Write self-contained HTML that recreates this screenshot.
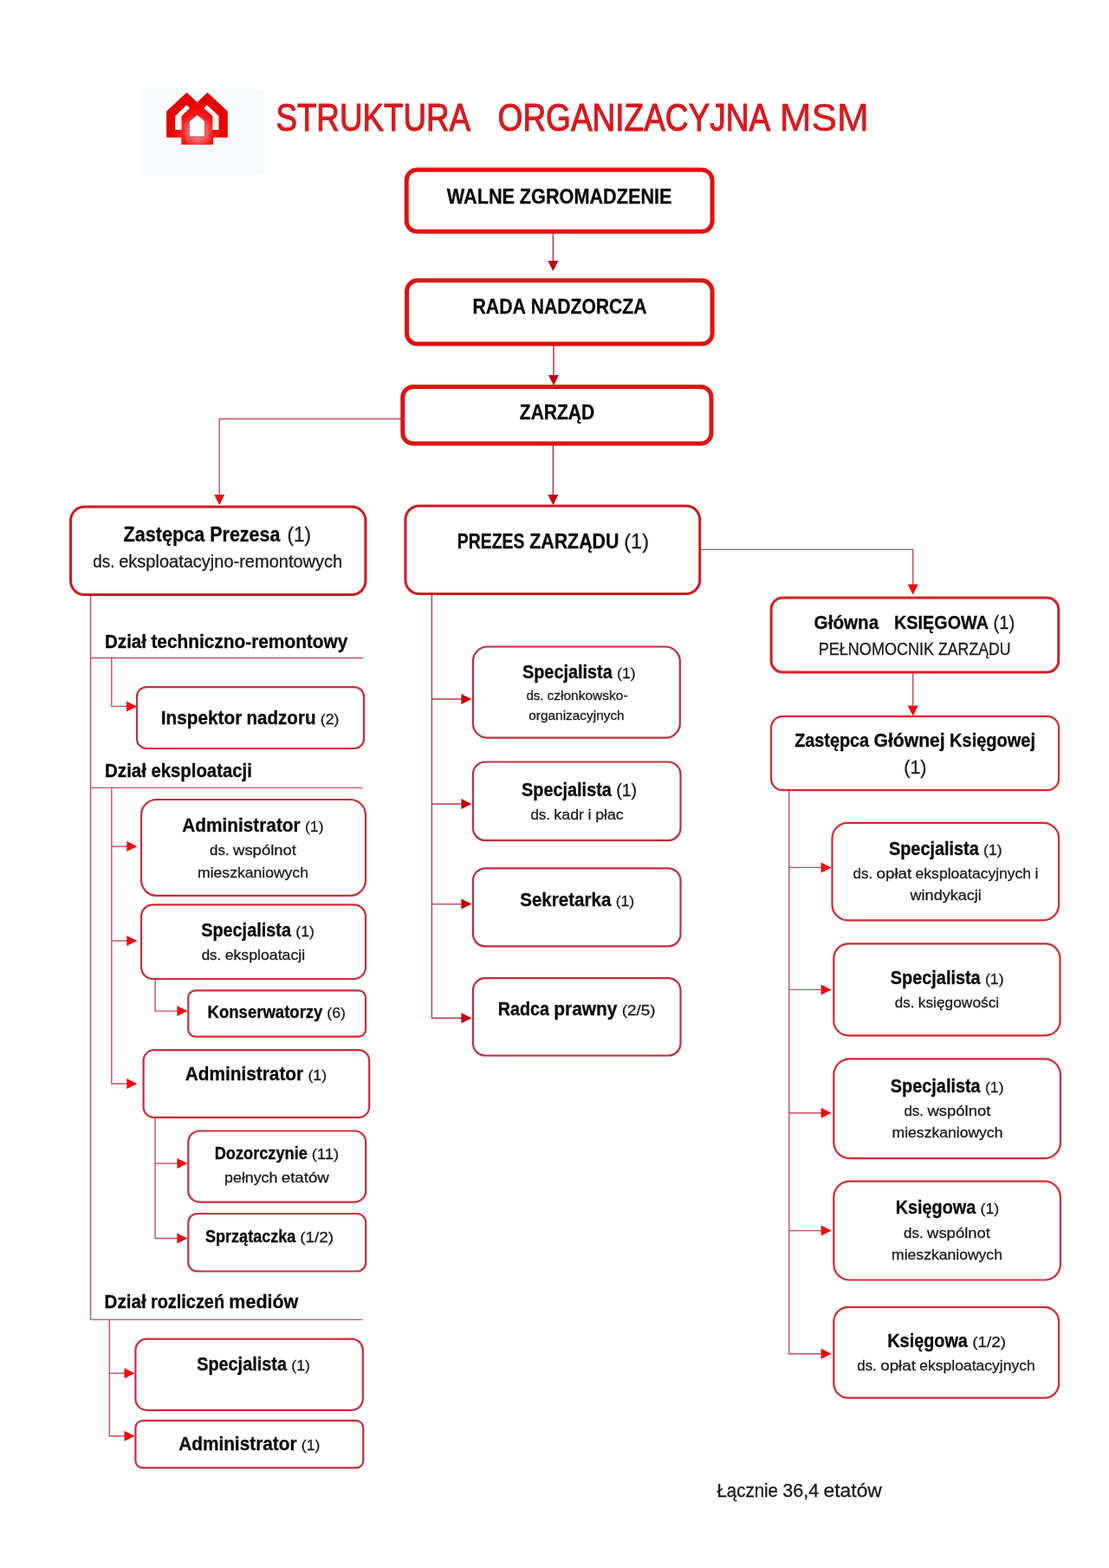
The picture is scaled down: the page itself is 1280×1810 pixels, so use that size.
<!DOCTYPE html>
<html lang="pl">
<head>
<meta charset="utf-8">
<title>Struktura organizacyjna MSM</title>
<style>
html,body{margin:0;padding:0;background:#fff;}
body{width:1280px;height:1810px;overflow:hidden;}
svg{display:block;will-change:transform;filter:blur(0.45px);}
svg text{font-family:"Liberation Sans",sans-serif;white-space:pre;}
</style>
</head>
<body>
<svg width="1280" height="1810" viewBox="0 0 1280 1810">
<rect width="1280" height="1810" fill="#fff"/>
<rect x="162.2" y="104" width="142.3" height="96.5" fill="#f8fcfd"/>
<defs><radialGradient id="lg" gradientUnits="userSpaceOnUse" cx="227.6" cy="151.5" r="36">
<stop offset="0" stop-color="#ffb8b8"/><stop offset="0.3" stop-color="#ff6060"/><stop offset="0.52" stop-color="#f41c1c"/><stop offset="0.75" stop-color="#ee0606"/><stop offset="1" stop-color="#e40404"/></radialGradient></defs>
<path fill="url(#lg)" fill-rule="evenodd" d="M215.5 106.7 L227.7 118 L239.4 106.7 L262.8 128.4 L262.8 158.7 L246 158.7 L246 166.9 L209.3 166.9 L209.3 158.7 L192.1 158.7 L192.1 128.4 Z M215.2 121.6 L219 124.7 L209.3 134 L209.3 149.7 L202.3 149.7 L202.3 134 Z M239 121.6 L235.5 124.7 L245.6 134 L245.6 149.7 L252.3 149.7 L252.3 134 Z M227.7 132.5 L236.6 140.3 L236.6 157.9 L218.3 157.9 L218.3 140.3 Z"/>
<path fill="#fffdfd" stroke="#7a1414" stroke-opacity="0.75" stroke-width="0.9" d="M227.7 132.5 L236.6 140.3 L236.6 157.9 L218.3 157.9 L218.3 140.3 Z"/>
<path fill="#fff4f2" d="M215.2 121.6 L219 124.7 L209.3 134 L209.3 149.7 L202.3 149.7 L202.3 134 Z M239 121.6 L235.5 124.7 L245.6 134 L245.6 149.7 L252.3 149.7 L252.3 134 Z"/>
<text y="151.0"><tspan x="318.4" textLength="224.6" font-size="44.8" fill="#d51a1f" stroke="#d51a1f" stroke-width="1.15" stroke-linejoin="round" lengthAdjust="spacingAndGlyphs">STRUKTURA</tspan> <tspan x="574.6" textLength="314.6" font-size="44.8" fill="#d51a1f" stroke="#d51a1f" stroke-width="1.15" stroke-linejoin="round" lengthAdjust="spacingAndGlyphs">ORGANIZACYJNA</tspan> <tspan x="899.8" textLength="102.8" font-size="44.8" fill="#d51a1f" stroke="#d51a1f" stroke-width="0.6" stroke-linejoin="round" lengthAdjust="spacingAndGlyphs">MSM</tspan></text>
<path d="M638.40 268.00 L638.40 302.00" fill="none" stroke="#a8283c" stroke-width="1.4"/>
<polygon points="638.40,313.10 632.40,301.10 644.40,301.10" fill="#c0000f"/>
<path d="M639.00 397.00 L639.00 434.00" fill="none" stroke="#a8283c" stroke-width="1.4"/>
<polygon points="639.00,445.00 633.00,433.00 645.00,433.00" fill="#c0000f"/>
<path d="M464.00 483.50 L253.20 483.50 L253.20 572.00" fill="none" stroke="#c24e5e" stroke-width="1.4"/>
<polygon points="253.20,583.00 247.20,571.00 259.20,571.00" fill="#ee0a10"/>
<path d="M638.40 512.00 L638.40 572.00" fill="none" stroke="#a8283c" stroke-width="1.4"/>
<polygon points="638.40,583.00 632.40,571.00 644.40,571.00" fill="#c0000f"/>
<path d="M807.00 634.40 L1053.70 634.40 L1053.70 675.00" fill="none" stroke="#c24e5e" stroke-width="1.4"/>
<polygon points="1053.70,686.50 1047.70,674.50 1059.70,674.50" fill="#ee0a10"/>
<path d="M1053.70 774.00 L1053.70 815.00" fill="none" stroke="#c24e5e" stroke-width="1.4"/>
<polygon points="1053.70,826.50 1047.70,814.50 1059.70,814.50" fill="#ee0a10"/>
<path d="M104.60 686.00 L104.60 1523.40" fill="none" stroke="#c24e5e" stroke-width="1.4"/>
<path d="M104.60 759.50 L419.20 759.50" fill="none" stroke="#c24e5e" stroke-width="1.4"/>
<path d="M104.60 909.40 L418.50 909.40" fill="none" stroke="#c24e5e" stroke-width="1.4"/>
<path d="M104.60 1523.40 L418.50 1523.40" fill="none" stroke="#c24e5e" stroke-width="1.4"/>
<path d="M128.80 759.50 L128.80 815.40 L147.00 815.40" fill="none" stroke="#c24e5e" stroke-width="1.4"/>
<polygon points="158.00,815.40 146.00,809.40 146.00,821.40" fill="#ee0a10"/>
<path d="M128.80 909.40 L128.80 1251.00 L147.00 1251.00" fill="none" stroke="#c24e5e" stroke-width="1.4"/>
<polygon points="158.30,1251.00 146.30,1245.00 146.30,1257.00" fill="#ee0a10"/>
<path d="M128.80 977.10 L147.00 977.10" fill="none" stroke="#c24e5e" stroke-width="1.4"/>
<polygon points="158.30,977.10 146.30,971.10 146.30,983.10" fill="#ee0a10"/>
<path d="M128.80 1086.00 L147.00 1086.00" fill="none" stroke="#c24e5e" stroke-width="1.4"/>
<polygon points="158.30,1086.00 146.30,1080.00 146.30,1092.00" fill="#ee0a10"/>
<path d="M179.10 1129.00 L179.10 1167.10 L205.00 1167.10" fill="none" stroke="#c24e5e" stroke-width="1.4"/>
<polygon points="216.40,1167.10 204.40,1161.10 204.40,1173.10" fill="#ee0a10"/>
<path d="M179.10 1289.00 L179.10 1429.50 L205.00 1429.50" fill="none" stroke="#c24e5e" stroke-width="1.4"/>
<polygon points="216.40,1429.50 204.40,1423.50 204.40,1435.50" fill="#ee0a10"/>
<path d="M179.10 1343.00 L205.00 1343.00" fill="none" stroke="#c24e5e" stroke-width="1.4"/>
<polygon points="216.40,1343.00 204.40,1337.00 204.40,1349.00" fill="#ee0a10"/>
<path d="M126.30 1523.40 L126.30 1657.70 L144.00 1657.70" fill="none" stroke="#c24e5e" stroke-width="1.4"/>
<polygon points="155.50,1657.70 143.50,1651.70 143.50,1663.70" fill="#ee0a10"/>
<path d="M126.30 1585.20 L144.00 1585.20" fill="none" stroke="#c24e5e" stroke-width="1.4"/>
<polygon points="155.50,1585.20 143.50,1579.20 143.50,1591.20" fill="#ee0a10"/>
<path d="M498.40 685.00 L498.40 1175.20 L534.00 1175.20" fill="none" stroke="#b03a4a" stroke-width="1.4"/>
<polygon points="544.40,1175.20 532.40,1169.20 532.40,1181.20" fill="#c0000f"/>
<path d="M498.40 807.00 L534.00 807.00" fill="none" stroke="#b03a4a" stroke-width="1.4"/>
<polygon points="544.40,807.00 532.40,801.00 532.40,813.00" fill="#c0000f"/>
<path d="M498.40 928.00 L534.00 928.00" fill="none" stroke="#b03a4a" stroke-width="1.4"/>
<polygon points="544.40,928.00 532.40,922.00 532.40,934.00" fill="#c0000f"/>
<path d="M498.40 1043.60 L534.00 1043.60" fill="none" stroke="#b03a4a" stroke-width="1.4"/>
<polygon points="544.40,1043.60 532.40,1037.60 532.40,1049.60" fill="#c0000f"/>
<path d="M910.70 911.00 L910.70 1562.80 L949.00 1562.80" fill="none" stroke="#c24e5e" stroke-width="1.4"/>
<polygon points="959.60,1562.80 947.60,1556.80 947.60,1568.80" fill="#ee0a10"/>
<path d="M910.70 1001.40 L949.00 1001.40" fill="none" stroke="#c24e5e" stroke-width="1.4"/>
<polygon points="959.60,1001.40 947.60,995.40 947.60,1007.40" fill="#ee0a10"/>
<path d="M910.70 1142.40 L949.00 1142.40" fill="none" stroke="#c24e5e" stroke-width="1.4"/>
<polygon points="959.60,1142.40 947.60,1136.40 947.60,1148.40" fill="#ee0a10"/>
<path d="M910.70 1284.80 L949.00 1284.80" fill="none" stroke="#c24e5e" stroke-width="1.4"/>
<polygon points="959.60,1284.80 947.60,1278.80 947.60,1290.80" fill="#ee0a10"/>
<path d="M910.70 1420.60 L949.00 1420.60" fill="none" stroke="#c24e5e" stroke-width="1.4"/>
<polygon points="959.60,1420.60 947.60,1414.60 947.60,1426.60" fill="#ee0a10"/>
<rect x="469.20" y="195.90" width="352.90" height="71.40" rx="12.30" ry="12.30" fill="#fff" stroke="#de1210" stroke-width="5"/>
<rect x="469.50" y="323.80" width="352.60" height="73.20" rx="12.30" ry="12.30" fill="#fff" stroke="#de1210" stroke-width="5"/>
<rect x="464.80" y="446.50" width="356.20" height="65.60" rx="12.30" ry="12.30" fill="#fff" stroke="#de1210" stroke-width="5"/>
<rect x="81.50" y="585.10" width="340.40" height="101.40" rx="15.90" ry="15.90" fill="#fff" stroke="#d01a20" stroke-width="3"/>
<rect x="467.90" y="583.90" width="339.80" height="101.60" rx="15.93" ry="15.93" fill="#fff" stroke="#d01a20" stroke-width="3"/>
<rect x="890.10" y="689.90" width="331.60" height="86.20" rx="13.37" ry="13.37" fill="#fff" stroke="#d81e24" stroke-width="3.0"/>
<rect x="158.00" y="793.10" width="262.00" height="70.90" rx="11.08" ry="11.08" fill="#fff" stroke="#c92c3a" stroke-width="2.2"/>
<rect x="163.00" y="923.00" width="259.00" height="110.80" rx="17.73" ry="17.73" fill="#fff" stroke="#c92c3a" stroke-width="2.2"/>
<rect x="163.00" y="1044.40" width="259.00" height="85.60" rx="13.53" ry="13.53" fill="#fff" stroke="#c92c3a" stroke-width="2.2"/>
<rect x="217.30" y="1143.30" width="204.70" height="53.40" rx="8.17" ry="8.17" fill="#fff" stroke="#c92c3a" stroke-width="2.2"/>
<rect x="165.60" y="1212.20" width="260.60" height="77.70" rx="12.22" ry="12.22" fill="#fff" stroke="#c92c3a" stroke-width="2.2"/>
<rect x="217.30" y="1305.50" width="204.90" height="82.10" rx="12.95" ry="12.95" fill="#fff" stroke="#c92c3a" stroke-width="2.2"/>
<rect x="217.30" y="1401.00" width="204.90" height="66.50" rx="10.35" ry="10.35" fill="#fff" stroke="#c92c3a" stroke-width="2.2"/>
<rect x="156.40" y="1545.60" width="262.40" height="82.20" rx="12.97" ry="12.97" fill="#fff" stroke="#c92c3a" stroke-width="2.2"/>
<rect x="156.40" y="1639.80" width="262.90" height="54.60" rx="8.37" ry="8.37" fill="#fff" stroke="#c92c3a" stroke-width="2.2"/>
<rect x="545.90" y="746.50" width="238.90" height="105.20" rx="16.80" ry="16.80" fill="#fff" stroke="#c02c3c" stroke-width="2.2"/>
<rect x="545.90" y="879.50" width="239.60" height="90.60" rx="14.37" ry="14.37" fill="#fff" stroke="#c02c3c" stroke-width="2.2"/>
<rect x="545.90" y="1002.30" width="239.60" height="90.00" rx="14.27" ry="14.27" fill="#fff" stroke="#c02c3c" stroke-width="2.2"/>
<rect x="545.90" y="1129.10" width="239.60" height="89.40" rx="14.17" ry="14.17" fill="#fff" stroke="#c02c3c" stroke-width="2.2"/>
<rect x="890.00" y="826.90" width="332.10" height="85.20" rx="13.47" ry="13.47" fill="#fff" stroke="#d3282f" stroke-width="2.2"/>
<rect x="960.50" y="949.80" width="261.60" height="112.50" rx="18.02" ry="18.02" fill="#fff" stroke="#d3282f" stroke-width="2.2"/>
<rect x="962.30" y="1089.40" width="261.20" height="105.90" rx="16.92" ry="16.92" fill="#fff" stroke="#d3282f" stroke-width="2.2"/>
<rect x="962.30" y="1222.30" width="261.60" height="114.80" rx="18.40" ry="18.40" fill="#fff" stroke="#d3282f" stroke-width="2.2"/>
<rect x="962.30" y="1363.60" width="261.60" height="113.90" rx="18.25" ry="18.25" fill="#fff" stroke="#d3282f" stroke-width="2.2"/>
<rect x="962.30" y="1508.80" width="259.80" height="104.90" rx="16.75" ry="16.75" fill="#fff" stroke="#d3282f" stroke-width="2.2"/>
<text y="234.80"><tspan x="515.71" font-size="23.22" font-weight="700" stroke="#0a0a0a" stroke-width="0.3" fill="#0a0a0a" textLength="78.30" lengthAdjust="spacingAndGlyphs">WALNE</tspan> <tspan x="599.85" font-size="23.22" font-weight="700" stroke="#0a0a0a" stroke-width="0.3" fill="#0a0a0a" textLength="175.64" lengthAdjust="spacingAndGlyphs">ZGROMADZENIE</tspan></text>
<text y="361.50"><tspan x="545.47" font-size="23.22" font-weight="700" stroke="#0a0a0a" stroke-width="0.3" fill="#0a0a0a" textLength="61.46" lengthAdjust="spacingAndGlyphs">RADA</tspan> <tspan x="612.76" font-size="23.22" font-weight="700" stroke="#0a0a0a" stroke-width="0.3" fill="#0a0a0a" textLength="133.77" lengthAdjust="spacingAndGlyphs">NADZORCZA</tspan></text>
<text y="483.80"><tspan x="599.81" font-size="23.22" font-weight="700" stroke="#0a0a0a" stroke-width="0.3" fill="#0a0a0a" textLength="86.38" lengthAdjust="spacingAndGlyphs">ZARZĄD</tspan></text>
<text y="624.80"><tspan x="142.60" font-size="23.22" font-weight="700" stroke="#0a0a0a" stroke-width="0.3" fill="#0a0a0a" textLength="93.80" lengthAdjust="spacingAndGlyphs">Zastępca</tspan> <tspan x="242.23" font-size="23.22" font-weight="700" stroke="#0a0a0a" stroke-width="0.3" fill="#0a0a0a" textLength="81.15" lengthAdjust="spacingAndGlyphs">Prezesa</tspan> <tspan x="331.60" font-size="23.22" stroke="#1a1a1a" stroke-width="0.3" fill="#1a1a1a" textLength="27.40" lengthAdjust="spacingAndGlyphs">(1)</tspan></text>
<text y="654.90"><tspan x="107.25" font-size="19.35" stroke="#1a1a1a" stroke-width="0.3" fill="#1a1a1a" textLength="25.13" lengthAdjust="spacingAndGlyphs">ds.</tspan> <tspan x="137.25" font-size="19.35" stroke="#1a1a1a" stroke-width="0.3" fill="#1a1a1a" textLength="257.90" lengthAdjust="spacingAndGlyphs">eksploatacyjno-remontowych</tspan></text>
<text y="748.00"><tspan x="121.00" font-size="21.29" font-weight="700" stroke="#0a0a0a" stroke-width="0.3" fill="#0a0a0a" textLength="48.03" lengthAdjust="spacingAndGlyphs">Dział</tspan> <tspan x="174.38" font-size="21.29" font-weight="700" stroke="#0a0a0a" stroke-width="0.3" fill="#0a0a0a" textLength="226.97" lengthAdjust="spacingAndGlyphs">techniczno-remontowy</tspan></text>
<text y="835.80"><tspan x="185.87" font-size="21.29" font-weight="700" stroke="#0a0a0a" stroke-width="0.3" fill="#0a0a0a" textLength="93.36" lengthAdjust="spacingAndGlyphs">Inspektor</tspan> <tspan x="284.57" font-size="21.29" font-weight="700" stroke="#0a0a0a" stroke-width="0.3" fill="#0a0a0a" textLength="79.87" lengthAdjust="spacingAndGlyphs">nadzoru</tspan> <tspan x="369.79" font-size="17.42" stroke="#1a1a1a" stroke-width="0.3" fill="#1a1a1a" textLength="21.54" lengthAdjust="spacingAndGlyphs">(2)</tspan></text>
<text y="897.00"><tspan x="121.00" font-size="21.29" font-weight="700" stroke="#0a0a0a" stroke-width="0.3" fill="#0a0a0a" textLength="48.03" lengthAdjust="spacingAndGlyphs">Dział</tspan> <tspan x="174.38" font-size="21.29" font-weight="700" stroke="#0a0a0a" stroke-width="0.3" fill="#0a0a0a" textLength="116.56" lengthAdjust="spacingAndGlyphs">eksploatacji</tspan></text>
<text y="960.00"><tspan x="210.26" font-size="21.29" font-weight="700" stroke="#0a0a0a" stroke-width="0.3" fill="#0a0a0a" textLength="136.38" lengthAdjust="spacingAndGlyphs">Administrator</tspan> <tspan x="351.99" font-size="17.42" stroke="#1a1a1a" stroke-width="0.3" fill="#1a1a1a" textLength="21.54" lengthAdjust="spacingAndGlyphs">(1)</tspan></text>
<text y="987.40"><tspan x="242.05" font-size="17.42" stroke="#1a1a1a" stroke-width="0.3" fill="#1a1a1a" textLength="22.62" lengthAdjust="spacingAndGlyphs">ds.</tspan> <tspan x="269.05" font-size="17.42" stroke="#1a1a1a" stroke-width="0.3" fill="#1a1a1a" textLength="72.90" lengthAdjust="spacingAndGlyphs">wspólnot</tspan></text>
<text y="1012.90"><tspan x="228.07" font-size="17.42" stroke="#1a1a1a" stroke-width="0.3" fill="#1a1a1a" textLength="127.85" lengthAdjust="spacingAndGlyphs">mieszkaniowych</tspan></text>
<text y="1080.50"><tspan x="232.14" font-size="21.29" font-weight="700" stroke="#0a0a0a" stroke-width="0.3" fill="#0a0a0a" textLength="103.82" lengthAdjust="spacingAndGlyphs">Specjalista</tspan> <tspan x="341.31" font-size="17.42" stroke="#1a1a1a" stroke-width="0.3" fill="#1a1a1a" textLength="21.54" lengthAdjust="spacingAndGlyphs">(1)</tspan></text>
<text y="1107.70"><tspan x="232.66" font-size="17.42" stroke="#1a1a1a" stroke-width="0.3" fill="#1a1a1a" textLength="22.62" lengthAdjust="spacingAndGlyphs">ds.</tspan> <tspan x="259.65" font-size="17.42" stroke="#1a1a1a" stroke-width="0.3" fill="#1a1a1a" textLength="92.49" lengthAdjust="spacingAndGlyphs">eksploatacji</tspan></text>
<text y="1175.40"><tspan x="239.54" font-size="19.35" font-weight="700" stroke="#0a0a0a" stroke-width="0.3" fill="#0a0a0a" textLength="132.91" lengthAdjust="spacingAndGlyphs">Konserwatorzy</tspan> <tspan x="377.31" font-size="17.42" stroke="#1a1a1a" stroke-width="0.3" fill="#1a1a1a" textLength="21.54" lengthAdjust="spacingAndGlyphs">(6)</tspan></text>
<text y="1246.90"><tspan x="213.76" font-size="21.29" font-weight="700" stroke="#0a0a0a" stroke-width="0.3" fill="#0a0a0a" textLength="136.38" lengthAdjust="spacingAndGlyphs">Administrator</tspan> <tspan x="355.49" font-size="17.42" stroke="#1a1a1a" stroke-width="0.3" fill="#1a1a1a" textLength="21.54" lengthAdjust="spacingAndGlyphs">(1)</tspan></text>
<text y="1338.00"><tspan x="247.70" font-size="19.35" font-weight="700" stroke="#0a0a0a" stroke-width="0.3" fill="#0a0a0a" textLength="107.18" lengthAdjust="spacingAndGlyphs">Dozorczynie</tspan> <tspan x="359.75" font-size="17.42" stroke="#1a1a1a" stroke-width="0.3" fill="#1a1a1a" textLength="31.35" lengthAdjust="spacingAndGlyphs">(11)</tspan></text>
<text y="1364.50"><tspan x="259.13" font-size="17.42" stroke="#1a1a1a" stroke-width="0.3" fill="#1a1a1a" textLength="61.26" lengthAdjust="spacingAndGlyphs">pełnych</tspan> <tspan x="324.76" font-size="17.42" stroke="#1a1a1a" stroke-width="0.3" fill="#1a1a1a" textLength="55.12" lengthAdjust="spacingAndGlyphs">etatów</tspan></text>
<text y="1433.70"><tspan x="236.97" font-size="19.35" font-weight="700" stroke="#0a0a0a" stroke-width="0.3" fill="#0a0a0a" textLength="104.38" lengthAdjust="spacingAndGlyphs">Sprzątaczka</tspan> <tspan x="346.21" font-size="17.42" stroke="#1a1a1a" stroke-width="0.3" fill="#1a1a1a" textLength="38.83" lengthAdjust="spacingAndGlyphs">(1/2)</tspan></text>
<text y="1510.00"><tspan x="120.60" font-size="21.29" font-weight="700" stroke="#0a0a0a" stroke-width="0.3" fill="#0a0a0a" textLength="48.03" lengthAdjust="spacingAndGlyphs">Dział</tspan> <tspan x="173.98" font-size="21.29" font-weight="700" stroke="#0a0a0a" stroke-width="0.3" fill="#0a0a0a" textLength="85.07" lengthAdjust="spacingAndGlyphs">rozliczeń</tspan> <tspan x="264.39" font-size="21.29" font-weight="700" stroke="#0a0a0a" stroke-width="0.3" fill="#0a0a0a" textLength="79.94" lengthAdjust="spacingAndGlyphs">mediów</tspan></text>
<text y="1581.50"><tspan x="227.14" font-size="21.29" font-weight="700" stroke="#0a0a0a" stroke-width="0.3" fill="#0a0a0a" textLength="103.82" lengthAdjust="spacingAndGlyphs">Specjalista</tspan> <tspan x="336.31" font-size="17.42" stroke="#1a1a1a" stroke-width="0.3" fill="#1a1a1a" textLength="21.54" lengthAdjust="spacingAndGlyphs">(1)</tspan></text>
<text y="1673.80"><tspan x="206.16" font-size="21.29" font-weight="700" stroke="#0a0a0a" stroke-width="0.3" fill="#0a0a0a" textLength="136.38" lengthAdjust="spacingAndGlyphs">Administrator</tspan> <tspan x="347.89" font-size="17.42" stroke="#1a1a1a" stroke-width="0.3" fill="#1a1a1a" textLength="21.54" lengthAdjust="spacingAndGlyphs">(1)</tspan></text>
<text y="633.40"><tspan x="527.80" font-size="23.22" font-weight="700" stroke="#0a0a0a" stroke-width="0.3" fill="#0a0a0a" textLength="77.58" lengthAdjust="spacingAndGlyphs">PREZES</tspan> <tspan x="611.22" font-size="23.22" font-weight="700" stroke="#0a0a0a" stroke-width="0.3" fill="#0a0a0a" textLength="103.22" lengthAdjust="spacingAndGlyphs">ZARZĄDU</tspan> <tspan x="720.27" font-size="23.22" stroke="#1a1a1a" stroke-width="0.3" fill="#1a1a1a" textLength="28.73" lengthAdjust="spacingAndGlyphs">(1)</tspan></text>
<text y="782.60"><tspan x="602.94" font-size="21.29" font-weight="700" stroke="#0a0a0a" stroke-width="0.3" fill="#0a0a0a" textLength="103.82" lengthAdjust="spacingAndGlyphs">Specjalista</tspan> <tspan x="712.11" font-size="17.42" stroke="#1a1a1a" stroke-width="0.3" fill="#1a1a1a" textLength="21.54" lengthAdjust="spacingAndGlyphs">(1)</tspan></text>
<text y="808.40"><tspan x="607.44" font-size="15.48" stroke="#1a1a1a" stroke-width="0.3" fill="#1a1a1a" textLength="20.11" lengthAdjust="spacingAndGlyphs">ds.</tspan> <tspan x="631.43" font-size="15.48" stroke="#1a1a1a" stroke-width="0.3" fill="#1a1a1a" textLength="93.13" lengthAdjust="spacingAndGlyphs">członkowsko-</tspan></text>
<text y="830.70"><tspan x="610.32" font-size="15.48" stroke="#1a1a1a" stroke-width="0.3" fill="#1a1a1a" textLength="110.36" lengthAdjust="spacingAndGlyphs">organizacyjnych</tspan></text>
<text y="918.70"><tspan x="602.05" font-size="21.29" font-weight="700" stroke="#0a0a0a" stroke-width="0.3" fill="#0a0a0a" textLength="103.82" lengthAdjust="spacingAndGlyphs">Specjalista</tspan> <tspan x="711.22" font-size="19.35" stroke="#1a1a1a" stroke-width="0.3" fill="#1a1a1a" textLength="23.94" lengthAdjust="spacingAndGlyphs">(1)</tspan></text>
<text y="946.20"><tspan x="612.38" font-size="17.42" stroke="#1a1a1a" stroke-width="0.3" fill="#1a1a1a" textLength="22.62" lengthAdjust="spacingAndGlyphs">ds.</tspan> <tspan x="639.37" font-size="17.42" stroke="#1a1a1a" stroke-width="0.3" fill="#1a1a1a" textLength="34.65" lengthAdjust="spacingAndGlyphs">kadr</tspan> <tspan x="678.40" font-size="17.42" stroke="#1a1a1a" stroke-width="0.3" fill="#1a1a1a">i</tspan> <tspan x="687.21" font-size="17.42" stroke="#1a1a1a" stroke-width="0.3" fill="#1a1a1a" textLength="32.41" lengthAdjust="spacingAndGlyphs">płac</tspan></text>
<text y="1045.50"><tspan x="600.20" font-size="21.29" font-weight="700" stroke="#0a0a0a" stroke-width="0.3" fill="#0a0a0a" textLength="105.12" lengthAdjust="spacingAndGlyphs">Sekretarka</tspan> <tspan x="710.66" font-size="17.42" stroke="#1a1a1a" stroke-width="0.3" fill="#1a1a1a" textLength="21.54" lengthAdjust="spacingAndGlyphs">(1)</tspan></text>
<text y="1172.10"><tspan x="574.80" font-size="21.29" font-weight="700" stroke="#0a0a0a" stroke-width="0.3" fill="#0a0a0a" textLength="59.12" lengthAdjust="spacingAndGlyphs">Radca</tspan> <tspan x="639.27" font-size="21.29" font-weight="700" stroke="#0a0a0a" stroke-width="0.3" fill="#0a0a0a" textLength="73.16" lengthAdjust="spacingAndGlyphs">prawny</tspan> <tspan x="717.77" font-size="17.42" stroke="#1a1a1a" stroke-width="0.3" fill="#1a1a1a" textLength="38.83" lengthAdjust="spacingAndGlyphs">(2/5)</tspan></text>
<text y="726.40"><tspan x="939.60" font-size="21.29" font-weight="700" stroke="#0a0a0a" stroke-width="0.3" fill="#0a0a0a" textLength="74.60" lengthAdjust="spacingAndGlyphs">Główna</tspan> <tspan x="1032.00" font-size="21.29" font-weight="700" stroke="#0a0a0a" stroke-width="0.3" fill="#0a0a0a" textLength="109.00" lengthAdjust="spacingAndGlyphs">KSIĘGOWA</tspan> <tspan x="1146.60" font-size="21.29" stroke="#1a1a1a" stroke-width="0.3" fill="#1a1a1a" textLength="24.60" lengthAdjust="spacingAndGlyphs">(1)</tspan></text>
<text y="755.70"><tspan x="944.67" font-size="19.35" stroke="#1a1a1a" stroke-width="0.3" fill="#1a1a1a" textLength="133.51" lengthAdjust="spacingAndGlyphs">PEŁNOMOCNIK</tspan> <tspan x="1083.04" font-size="19.35" stroke="#1a1a1a" stroke-width="0.3" fill="#1a1a1a" textLength="83.49" lengthAdjust="spacingAndGlyphs">ZARZĄDU</tspan></text>
<text y="862.30"><tspan x="917.17" font-size="21.29" font-weight="700" stroke="#0a0a0a" stroke-width="0.3" fill="#0a0a0a" textLength="85.98" lengthAdjust="spacingAndGlyphs">Zastępca</tspan> <tspan x="1008.50" font-size="21.29" font-weight="700" stroke="#0a0a0a" stroke-width="0.3" fill="#0a0a0a" textLength="82.24" lengthAdjust="spacingAndGlyphs">Głównej</tspan> <tspan x="1096.08" font-size="21.29" font-weight="700" stroke="#0a0a0a" stroke-width="0.3" fill="#0a0a0a" textLength="98.95" lengthAdjust="spacingAndGlyphs">Księgowej</tspan></text>
<text y="893.20"><tspan x="1043.23" font-size="21.29" stroke="#1a1a1a" stroke-width="0.3" fill="#1a1a1a" textLength="26.33" lengthAdjust="spacingAndGlyphs">(1)</tspan></text>
<text y="987.00"><tspan x="1025.94" font-size="21.29" font-weight="700" stroke="#0a0a0a" stroke-width="0.3" fill="#0a0a0a" textLength="103.82" lengthAdjust="spacingAndGlyphs">Specjalista</tspan> <tspan x="1135.11" font-size="17.42" stroke="#1a1a1a" stroke-width="0.3" fill="#1a1a1a" textLength="21.54" lengthAdjust="spacingAndGlyphs">(1)</tspan></text>
<text y="1013.80"><tspan x="984.50" font-size="17.42" stroke="#1a1a1a" stroke-width="0.3" fill="#1a1a1a" textLength="22.62" lengthAdjust="spacingAndGlyphs">ds.</tspan> <tspan x="1011.50" font-size="17.42" stroke="#1a1a1a" stroke-width="0.3" fill="#1a1a1a" textLength="40.73" lengthAdjust="spacingAndGlyphs">opłat</tspan> <tspan x="1056.61" font-size="17.42" stroke="#1a1a1a" stroke-width="0.3" fill="#1a1a1a" textLength="133.48" lengthAdjust="spacingAndGlyphs">eksploatacyjnych</tspan> <tspan x="1194.46" font-size="17.42" stroke="#1a1a1a" stroke-width="0.3" fill="#1a1a1a">i</tspan></text>
<text y="1039.20"><tspan x="1050.52" font-size="17.42" stroke="#1a1a1a" stroke-width="0.3" fill="#1a1a1a" textLength="82.36" lengthAdjust="spacingAndGlyphs">windykacji</tspan></text>
<text y="1135.80"><tspan x="1027.84" font-size="21.29" font-weight="700" stroke="#0a0a0a" stroke-width="0.3" fill="#0a0a0a" textLength="103.82" lengthAdjust="spacingAndGlyphs">Specjalista</tspan> <tspan x="1137.01" font-size="17.42" stroke="#1a1a1a" stroke-width="0.3" fill="#1a1a1a" textLength="21.54" lengthAdjust="spacingAndGlyphs">(1)</tspan></text>
<text y="1163.30"><tspan x="1032.80" font-size="17.42" stroke="#1a1a1a" stroke-width="0.3" fill="#1a1a1a" textLength="22.62" lengthAdjust="spacingAndGlyphs">ds.</tspan> <tspan x="1059.79" font-size="17.42" stroke="#1a1a1a" stroke-width="0.3" fill="#1a1a1a" textLength="93.41" lengthAdjust="spacingAndGlyphs">księgowości</tspan></text>
<text y="1260.80"><tspan x="1027.84" font-size="21.29" font-weight="700" stroke="#0a0a0a" stroke-width="0.3" fill="#0a0a0a" textLength="103.82" lengthAdjust="spacingAndGlyphs">Specjalista</tspan> <tspan x="1137.01" font-size="17.42" stroke="#1a1a1a" stroke-width="0.3" fill="#1a1a1a" textLength="21.54" lengthAdjust="spacingAndGlyphs">(1)</tspan></text>
<text y="1288.30"><tspan x="1043.45" font-size="17.42" stroke="#1a1a1a" stroke-width="0.3" fill="#1a1a1a" textLength="22.62" lengthAdjust="spacingAndGlyphs">ds.</tspan> <tspan x="1070.45" font-size="17.42" stroke="#1a1a1a" stroke-width="0.3" fill="#1a1a1a" textLength="72.90" lengthAdjust="spacingAndGlyphs">wspólnot</tspan></text>
<text y="1313.40"><tspan x="1029.57" font-size="17.42" stroke="#1a1a1a" stroke-width="0.3" fill="#1a1a1a" textLength="127.85" lengthAdjust="spacingAndGlyphs">mieszkaniowych</tspan></text>
<text y="1401.00"><tspan x="1033.65" font-size="21.29" font-weight="700" stroke="#0a0a0a" stroke-width="0.3" fill="#0a0a0a" textLength="92.61" lengthAdjust="spacingAndGlyphs">Księgowa</tspan> <tspan x="1131.61" font-size="17.42" stroke="#1a1a1a" stroke-width="0.3" fill="#1a1a1a" textLength="21.54" lengthAdjust="spacingAndGlyphs">(1)</tspan></text>
<text y="1429.30"><tspan x="1043.05" font-size="17.42" stroke="#1a1a1a" stroke-width="0.3" fill="#1a1a1a" textLength="22.62" lengthAdjust="spacingAndGlyphs">ds.</tspan> <tspan x="1070.05" font-size="17.42" stroke="#1a1a1a" stroke-width="0.3" fill="#1a1a1a" textLength="72.90" lengthAdjust="spacingAndGlyphs">wspólnot</tspan></text>
<text y="1454.30"><tspan x="1029.07" font-size="17.42" stroke="#1a1a1a" stroke-width="0.3" fill="#1a1a1a" textLength="127.85" lengthAdjust="spacingAndGlyphs">mieszkaniowych</tspan></text>
<text y="1554.90"><tspan x="1024.31" font-size="21.29" font-weight="700" stroke="#0a0a0a" stroke-width="0.3" fill="#0a0a0a" textLength="92.61" lengthAdjust="spacingAndGlyphs">Księgowa</tspan> <tspan x="1122.27" font-size="17.42" stroke="#1a1a1a" stroke-width="0.3" fill="#1a1a1a" textLength="38.83" lengthAdjust="spacingAndGlyphs">(1/2)</tspan></text>
<text y="1582.40"><tspan x="989.21" font-size="17.42" stroke="#1a1a1a" stroke-width="0.3" fill="#1a1a1a" textLength="22.62" lengthAdjust="spacingAndGlyphs">ds.</tspan> <tspan x="1016.20" font-size="17.42" stroke="#1a1a1a" stroke-width="0.3" fill="#1a1a1a" textLength="40.73" lengthAdjust="spacingAndGlyphs">opłat</tspan> <tspan x="1061.31" font-size="17.42" stroke="#1a1a1a" stroke-width="0.3" fill="#1a1a1a" textLength="133.48" lengthAdjust="spacingAndGlyphs">eksploatacyjnych</tspan></text>
<text y="1727.50"><tspan x="827.50" font-size="21.29" stroke="#1a1a1a" stroke-width="0.3" fill="#1a1a1a" textLength="70.46" lengthAdjust="spacingAndGlyphs">Łącznie</tspan> <tspan x="903.31" font-size="21.29" stroke="#1a1a1a" stroke-width="0.3" fill="#1a1a1a" textLength="41.86" lengthAdjust="spacingAndGlyphs">36,4</tspan> <tspan x="950.52" font-size="21.29" stroke="#1a1a1a" stroke-width="0.3" fill="#1a1a1a" textLength="67.36" lengthAdjust="spacingAndGlyphs">etatów</tspan></text>
</svg>
</body>
</html>
